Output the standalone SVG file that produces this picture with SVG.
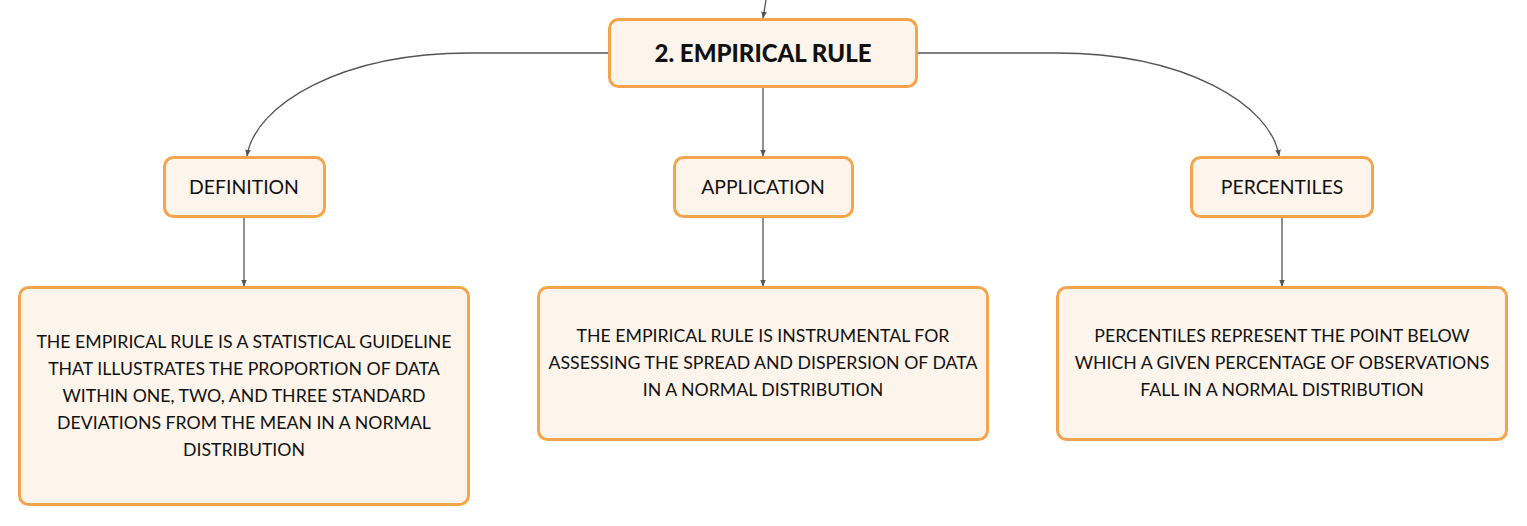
<svg xmlns="http://www.w3.org/2000/svg" width="1527" height="526" viewBox="0 0 1527 526">
<style>
.box{fill:#FDF4EB;stroke:#F4A44C;stroke-width:3}
.edge{fill:none;stroke:#555555;stroke-width:1.3}
.t{font-family:Lato,"Open Sans","Liberation Sans",sans-serif;fill:#111111;text-anchor:middle}
.lbl{font-size:19.4px}
.body{font-size:17.7px}
.root{font-size:24px;font-weight:900}
</style>
<defs>
<marker id="arr" viewBox="0 0 10 10" refX="9" refY="5" markerWidth="7" markerHeight="7" markerUnits="userSpaceOnUse" orient="auto">
<path d="M0,1 L10,5 L0,9 z" fill="#555555"/>
</marker>
</defs>
<rect width="1527" height="526" fill="#FFFFFF"/>
<g id="connectors">
<path class="edge" d="M766,0 L763,18" marker-end="url(#arr)"/>
<path class="edge" d="M609,53 L470,53 C340,53 255,105 247,156" marker-end="url(#arr)"/>
<path class="edge" d="M763,87 L763,156" marker-end="url(#arr)"/>
<path class="edge" d="M917,53 L1056,53 C1186,53 1271,105 1279,156" marker-end="url(#arr)"/>
<path class="edge" d="M244,217 L244,286" marker-end="url(#arr)"/>
<path class="edge" d="M763,217 L763,286" marker-end="url(#arr)"/>
<path class="edge" d="M1282,217 L1282,286" marker-end="url(#arr)"/>
</g>
<g id="root">
<rect class="box" x="609.5" y="19.5" width="307" height="67" rx="9"/>
<text class="t root" x="763" y="62">2. EMPIRICAL RULE</text>
</g>
<g id="definition">
<rect class="box" x="164.5" y="157.5" width="160" height="59" rx="9"/>
<text class="t lbl" x="244" y="194">DEFINITION</text>
</g>
<g id="application">
<rect class="box" x="674.5" y="157.5" width="178" height="59" rx="9"/>
<text class="t lbl" x="763" y="194">APPLICATION</text>
</g>
<g id="percentiles">
<rect class="box" x="1191.5" y="157.5" width="181" height="59" rx="9"/>
<text class="t lbl" x="1282" y="194">PERCENTILES</text>
</g>
<g id="definition-text">
<rect class="box" x="19.5" y="287.5" width="449" height="217" rx="9"/>
<text class="t body" x="244" y="348">THE EMPIRICAL RULE IS A STATISTICAL GUIDELINE</text>
<text class="t body" x="244" y="375">THAT ILLUSTRATES THE PROPORTION OF DATA</text>
<text class="t body" x="244" y="402">WITHIN ONE, TWO, AND THREE STANDARD</text>
<text class="t body" x="244" y="429">DEVIATIONS FROM THE MEAN IN A NORMAL</text>
<text class="t body" x="244" y="456">DISTRIBUTION</text>
</g>
<g id="application-text">
<rect class="box" x="538.5" y="287.5" width="449" height="152" rx="9"/>
<text class="t body" x="763" y="342">THE EMPIRICAL RULE IS INSTRUMENTAL FOR</text>
<text class="t body" x="763" y="369">ASSESSING THE SPREAD AND DISPERSION OF DATA</text>
<text class="t body" x="763" y="396">IN A NORMAL DISTRIBUTION</text>
</g>
<g id="percentiles-text">
<rect class="box" x="1057.5" y="287.5" width="449" height="152" rx="9"/>
<text class="t body" x="1282" y="342">PERCENTILES REPRESENT THE POINT BELOW</text>
<text class="t body" x="1282" y="369">WHICH A GIVEN PERCENTAGE OF OBSERVATIONS</text>
<text class="t body" x="1282" y="396">FALL IN A NORMAL DISTRIBUTION</text>
</g>
</svg>
